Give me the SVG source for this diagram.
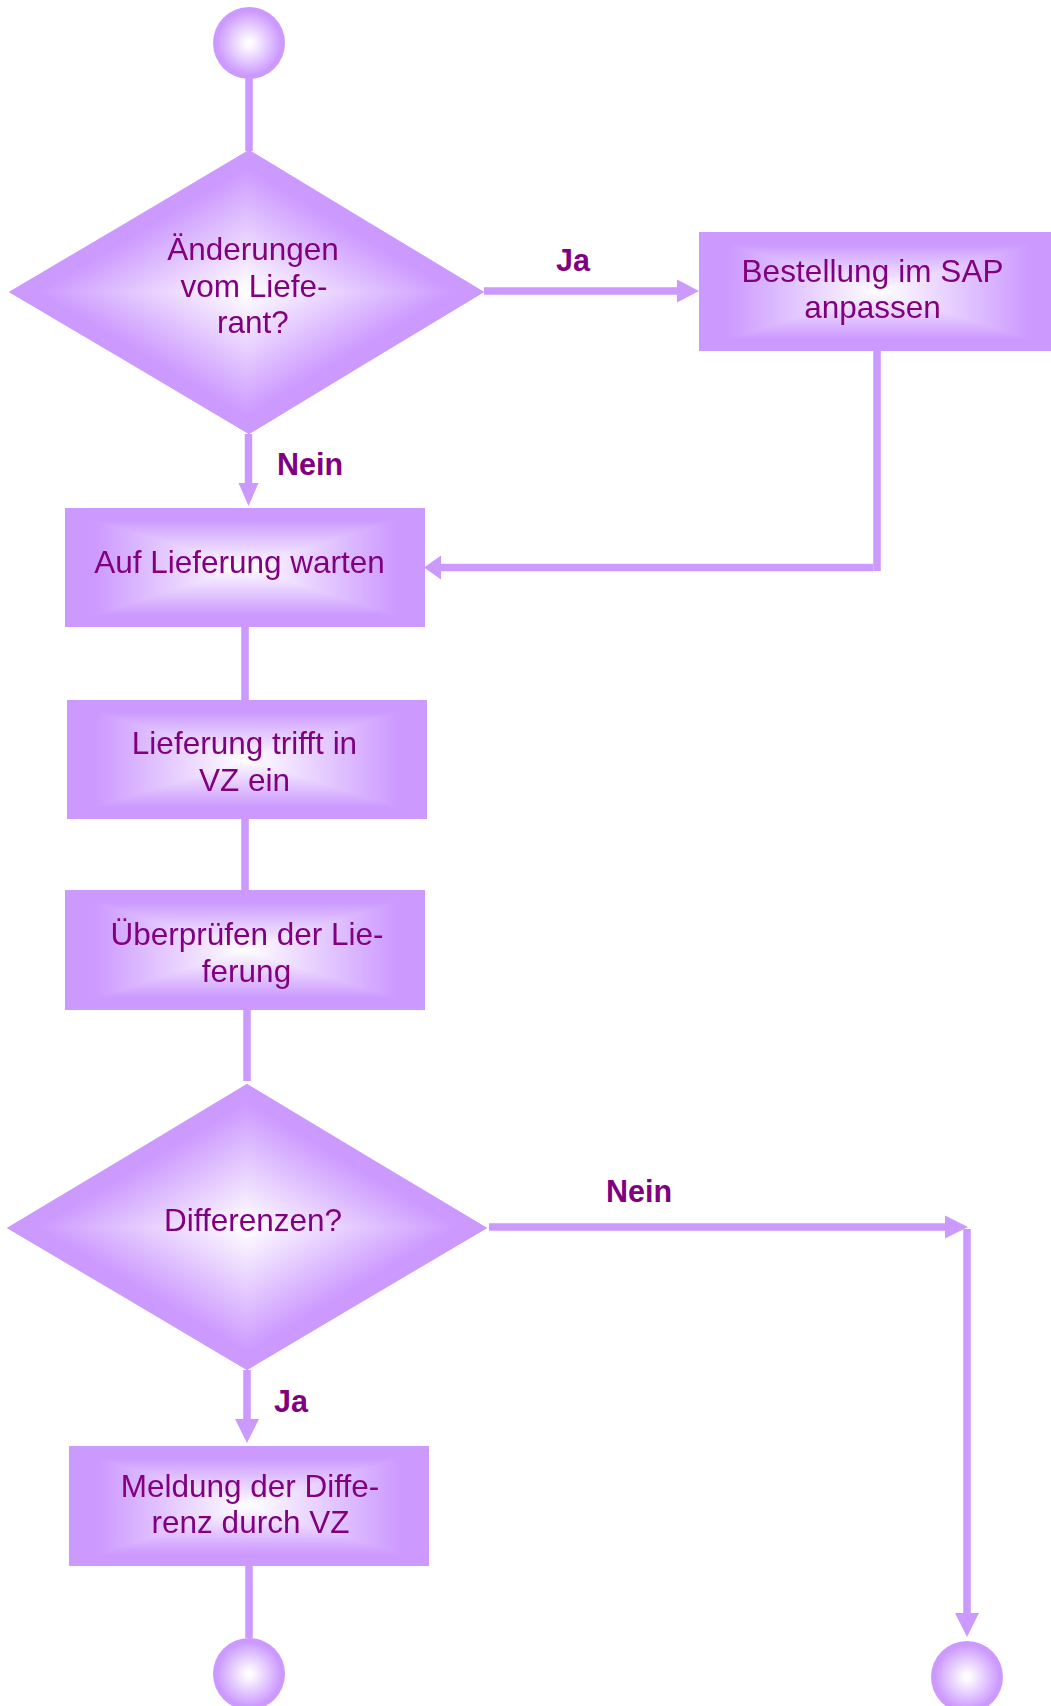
<svg xmlns="http://www.w3.org/2000/svg" width="1051" height="1706" viewBox="0 0 1051 1706">
<style>
.t{font-family:"Liberation Sans",Arial,Helvetica,sans-serif;font-size:31.5px;fill:#800080;text-anchor:middle}
.l{font-family:"Liberation Sans",Arial,Helvetica,sans-serif;font-size:30.5px;font-weight:bold;fill:#800080}
.node{isolation:isolate}
.dk{mix-blend-mode:darken}
.c{stroke:#CC99FF;stroke-width:7.5;fill:none;stroke-linecap:butt}
.a{fill:#CC99FF;stroke:none}
</style>
<defs>
<linearGradient id="gH" x1="0" y1="0" x2="1" y2="0">
<stop offset="0" stop-color="#CC99FF"/><stop offset="0.08" stop-color="#CC99FF"/><stop offset="0.5" stop-color="#FFFFFF"/><stop offset="0.92" stop-color="#CC99FF"/><stop offset="1" stop-color="#CC99FF"/>
</linearGradient>
<linearGradient id="gV" x1="0" y1="0" x2="0" y2="1">
<stop offset="0" stop-color="#CC99FF"/><stop offset="0.1" stop-color="#CC99FF"/><stop offset="0.5" stop-color="#FFFFFF"/><stop offset="0.9" stop-color="#CC99FF"/><stop offset="1" stop-color="#CC99FF"/>
</linearGradient>
<linearGradient id="gD1" x1="0" y1="0" x2="1" y2="1">
<stop offset="0.25" stop-color="#CC99FF"/><stop offset="0.28" stop-color="#CC99FF"/><stop offset="0.5" stop-color="#FFFFFF"/><stop offset="0.72" stop-color="#CC99FF"/><stop offset="0.75" stop-color="#CC99FF"/>
</linearGradient>
<linearGradient id="gD2" x1="1" y1="0" x2="0" y2="1">
<stop offset="0.25" stop-color="#CC99FF"/><stop offset="0.28" stop-color="#CC99FF"/><stop offset="0.5" stop-color="#FFFFFF"/><stop offset="0.72" stop-color="#CC99FF"/><stop offset="0.75" stop-color="#CC99FF"/>
</linearGradient>
<radialGradient id="gC" cx="0.5" cy="0.5" r="0.5">
<stop offset="0" stop-color="#FFFFFF"/><stop offset="0.12" stop-color="#FCF8FF"/><stop offset="0.9" stop-color="#CC99FF"/><stop offset="1" stop-color="#CC99FF"/>
</radialGradient>
</defs>

<g id="connectors">
<line class="c" x1="249" y1="78" x2="249" y2="151"/>
<line class="c" x1="484" y1="291" x2="678" y2="291"/>
<polygon class="a" points="677,279.5 699,291 677,302.5"/>
<line class="c" x1="248.5" y1="434" x2="248.5" y2="484"/>
<polygon class="a" points="238.5,483 258.5,483 248.5,506"/>
<line class="c" x1="877" y1="351" x2="877" y2="571"/>
<line class="c" x1="873" y1="567.5" x2="440" y2="567.5"/>
<polygon class="a" points="441,555.5 424,567.5 441,579.5"/>
<line class="c" x1="245" y1="627" x2="245" y2="700"/>
<line class="c" x1="245" y1="819" x2="245" y2="890"/>
<line class="c" x1="247" y1="1010" x2="247" y2="1081"/>
<line class="c" x1="489" y1="1227" x2="946" y2="1227"/>
<polygon class="a" points="945,1215.5 968,1227 945,1238.5"/>
<line class="c" x1="967" y1="1229" x2="967" y2="1614"/>
<polygon class="a" points="955,1613 979,1613 967,1637"/>
<line class="c" x1="247" y1="1370" x2="247" y2="1420"/>
<polygon class="a" points="235,1419 259,1419 247,1443"/>
<line class="c" x1="249" y1="1566" x2="249" y2="1638"/>
<text class="l" x="556" y="271">Ja</text>
<text class="l" x="277" y="475">Nein</text>
<text class="l" x="606" y="1202">Nein</text>
<text class="l" x="274" y="1412">Ja</text>
</g>

<g id="start" class="node">
<circle cx="249" cy="43" r="36" fill="url(#gC)"/>
</g>

<g id="d1" class="node">
<polygon points="249,150 484,292 249,434 9,292" fill="url(#gD1)"/>
<polygon class="dk" points="249,150 484,292 249,434 9,292" fill="url(#gD2)"/>
<text class="t" x="253" y="260">Änderungen</text>
<text class="t" x="254" y="297">vom Liefe-</text>
<text class="t" x="253" y="333">rant?</text>
</g>

<g id="bestellung" class="node">
<rect x="699" y="232" width="360" height="119" fill="url(#gH)"/>
<rect class="dk" x="699" y="232" width="360" height="119" fill="url(#gV)"/>
<text class="t" x="872.5" y="282" textLength="262" lengthAdjust="spacing">Bestellung im SAP</text>
<text class="t" x="872.5" y="318">anpassen</text>
</g>

<g id="warten" class="node">
<rect x="65" y="508" width="360" height="119" fill="url(#gH)"/>
<rect class="dk" x="65" y="508" width="360" height="119" fill="url(#gV)"/>
<text class="t" x="239.5" y="573">Auf Lieferung warten</text>
</g>

<g id="eintreffen" class="node">
<rect x="67" y="700" width="360" height="119" fill="url(#gH)"/>
<rect class="dk" x="67" y="700" width="360" height="119" fill="url(#gV)"/>
<text class="t" x="244.5" y="754">Lieferung trifft in</text>
<text class="t" x="244.5" y="791">VZ ein</text>
</g>

<g id="pruefen" class="node">
<rect x="65" y="890" width="360" height="120" fill="url(#gH)"/>
<rect class="dk" x="65" y="890" width="360" height="120" fill="url(#gV)"/>
<text class="t" x="247" y="945">Überprüfen der Lie-</text>
<text class="t" x="246.5" y="982">ferung</text>
</g>

<g id="d2" class="node">
<polygon points="247,1084 487,1228 247,1370 7,1228" fill="url(#gD1)"/>
<polygon class="dk" points="247,1084 487,1228 247,1370 7,1228" fill="url(#gD2)"/>
<text class="t" x="253" y="1231">Differenzen?</text>
</g>

<g id="meldung" class="node">
<rect x="69" y="1446" width="360" height="120" fill="url(#gH)"/>
<rect class="dk" x="69" y="1446" width="360" height="120" fill="url(#gV)"/>
<text class="t" x="250" y="1497">Meldung der Diffe-</text>
<text class="t" x="250.5" y="1533">renz durch VZ</text>
</g>

<g id="end1" class="node">
<circle cx="249" cy="1674" r="36" fill="url(#gC)"/>
</g>

<g id="end2" class="node">
<circle cx="967" cy="1677" r="36" fill="url(#gC)"/>
</g>
</svg>
